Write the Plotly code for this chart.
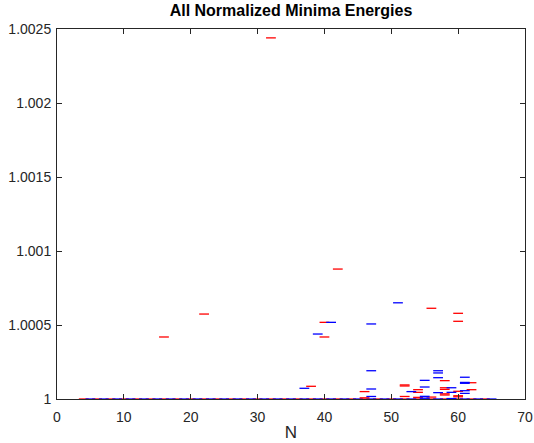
import plotly.graph_objects as go

# Baseline minima (normalized energy = 1)
red_base_N = [4, 6, 8, 10, 12, 14, 16, 18, 20, 22, 24, 26, 28, 30, 32, 34, 36, 38, 40,
              42, 44, 46, 48, 50, 52, 54, 56, 58, 60, 62, 64]
red_base_E = [1.0] * len(red_base_N)
blue_base_N = [5, 7, 9, 11, 13, 15, 17, 19, 21, 23, 25, 27, 29, 31, 33, 35, 37, 39, 41,
               43, 45, 47, 49, 51, 53, 55, 57, 59, 61, 63, 65]
blue_base_E = [1.0] * len(blue_base_N)

# Other minima
red_N = [16, 22, 32, 38, 40, 40, 42, 46, 46, 52, 52, 52, 54, 54, 54, 56, 56,
         58, 58, 58, 58, 58, 60, 60, 60, 60, 60, 62, 62]
red_E = [1.000419, 1.000574, 1.002440, 1.0000858, 1.000419, 1.000518, 1.000878,
         1.000050, 1.000008, 1.000095, 1.000088, 1.000017, 1.000063, 1.000045,
         1.000011, 1.000613, 1.000013, 1.000124, 1.000076, 1.000065, 1.000035,
         1.000027, 1.000579, 1.000525, 1.000052, 1.000022, 1.000015, 1.000110,
         1.000063]
blue_N = [37, 39, 41, 47, 47, 47, 47, 51, 53, 55, 55, 55, 55, 57, 57, 57, 57,
          59, 59, 59, 61, 61, 61, 61, 61]
blue_E = [1.0000723, 1.000439, 1.000518, 1.000507, 1.000191, 1.0000676, 1.000017,
          1.000650, 1.000050, 1.000126, 1.000081, 1.000018, 1.000006, 1.000191,
          1.000176, 1.000144, 1.000043, 1.000076, 1.000045, 1.000003, 1.000147,
          1.000112, 1.000106, 1.000056, 1.000038]

x_ticks = [0, 10, 20, 30, 40, 50, 60, 70]
y_ticks = [1.0, 1.0005, 1.001, 1.0015, 1.002, 1.0025]
y_tick_text = ["1", "1.0005", "1.001", "1.0015", "1.002", "1.0025"]

RED = "#FF0000"
BLUE = "#0000FF"

def seg(x, y, color):
    return go.Scatter(x=x, y=y, mode="markers", showlegend=False, hoverinfo="skip",
                      cliponaxis=False,
                      marker=dict(symbol="line-ew", size=7,
                                  line=dict(color=color, width=1.3)))

fig = go.Figure()
fig.add_trace(seg(red_base_N, red_base_E, RED))
fig.add_trace(seg(blue_base_N, blue_base_E, BLUE))
fig.add_trace(seg(red_N, red_E, RED))
fig.add_trace(seg(blue_N, blue_E, BLUE))

axis_col = "#262626"
fig.update_layout(
    width=534, height=443,
    margin=dict(l=57, r=9, t=29, b=44, autoexpand=False),
    paper_bgcolor="white", plot_bgcolor="white",
    font=dict(family="Liberation Sans, Arial, sans-serif", size=14, color=axis_col),
    title=dict(text="<b>All Normalized Minima Energies</b>", x=0.5, xanchor="center",
               y=1 - 10 / 443, yanchor="middle", xref="paper",
               font=dict(size=16, color="black")),
    xaxis=dict(range=[0, 70], tickvals=x_ticks, ticks="inside", ticklen=5,
               tickcolor=axis_col, showline=True, linecolor=axis_col, linewidth=1,
               mirror="ticks", showgrid=False, zeroline=False, automargin=False,
               ticklabelstandoff=5,
               title=dict(text="N", standoff=2), tickfont=dict(size=14)),
    yaxis=dict(range=[1.0, 1.0025], tickvals=y_ticks, ticktext=y_tick_text,
               ticks="inside", ticklen=5, tickcolor=axis_col, showline=True,
               linecolor=axis_col, linewidth=1, mirror="ticks", showgrid=False,
               zeroline=False, automargin=False, ticklabelstandoff=2,
               tickfont=dict(size=14)),
)

fig.write_html("out.html", config={"displayModeBar": False},
               post_script="document.body.style.margin='0';document.body.style.overflow='hidden';")
